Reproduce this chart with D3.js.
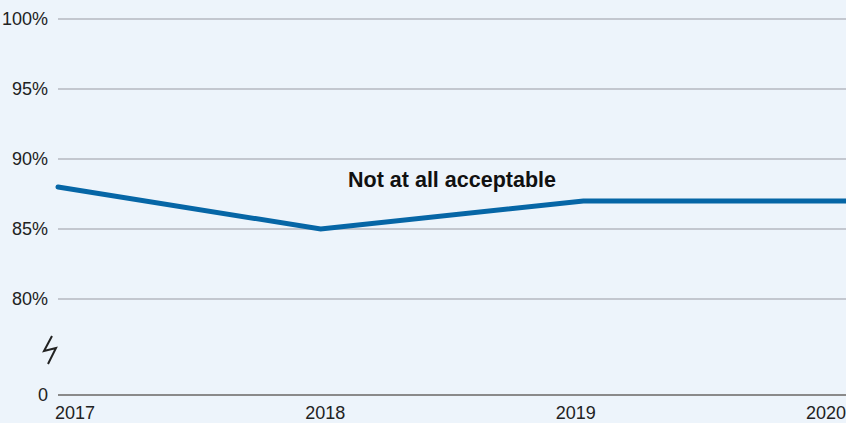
<!DOCTYPE html>
<html><head><meta charset="utf-8">
<script src="https://cdn.jsdelivr.net/npm/d3@7"></script>
<style>
html,body{margin:0;padding:0;background:#edf4fb;}
svg{display:block;font-family:"Liberation Sans",Arial,Helvetica,sans-serif;}
</style></head>
<body>
<svg id="chart" width="846" height="423"></svg>
<script>
const years = ["2017", "2018", "2019", "2020"];
const values = [88, 85, 87, 87];
const yTicks = [80, 85, 90, 95, 100];
const seriesLabel = "Not at all acceptable";

const W = 846, H = 423;
const left = 58, right = 846;
const svg = d3.select("#chart");
svg.append("rect").attr("width", W).attr("height", H).attr("fill", "#edf4fb");

const x = d3.scalePoint().domain(years).range([left, right]);
const y = d3.scaleLinear().domain([80, 100]).range([299, 19]);
const zeroY = 395;

// gridlines
svg.append("g").selectAll("line").data(yTicks).join("line")
  .attr("x1", left).attr("x2", right)
  .attr("y1", d => y(d)).attr("y2", d => y(d))
  .attr("stroke", "#c3c7cf").attr("stroke-width", 2);

// y labels
svg.append("g").selectAll("text").data(yTicks).join("text")
  .attr("x", 48).attr("y", d => y(d)).attr("dy", "0.35em")
  .attr("text-anchor", "end").attr("font-size", 18).attr("fill", "#222")
  .text(d => d + "%");

// baseline & zero label
svg.append("line").attr("x1", left).attr("x2", right)
  .attr("y1", zeroY).attr("y2", zeroY)
  .attr("stroke", "#8a8a8a").attr("stroke-width", 2);
svg.append("text").attr("x", 48).attr("y", zeroY).attr("dy", "0.35em")
  .attr("text-anchor", "end").attr("font-size", 18).attr("fill", "#222").text("0");

// axis break symbol
svg.append("path").attr("d", "M52,336 L44,351 L56,348 L48,364")
  .attr("fill", "none").attr("stroke", "#222").attr("stroke-width", 2)
  .attr("stroke-linejoin", "miter");

// x labels, spread between edges
const xl = svg.append("g").selectAll("text").data(years).join("text")
  .attr("y", 419).attr("font-size", 18).attr("fill", "#222")
  .attr("text-anchor", "middle").text(d => d);
const widths = xl.nodes().map(n => n.getComputedTextLength());
const wAvg = d3.mean(widths);
const x0 = 55, x1 = 846;
xl.attr("x", (d, i) => x0 + wAvg / 2 + i * (x1 - x0 - wAvg) / (years.length - 1));

// line
const line = d3.line().x((d, i) => x(years[i])).y(d => y(d));
svg.append("path").datum(values).attr("d", line)
  .attr("fill", "none").attr("stroke", "#0666a6").attr("stroke-width", 5)
  .attr("stroke-linecap", "round").attr("stroke-linejoin", "miter");

// series label
svg.append("text").attr("x", 452).attr("y", 187)
  .attr("text-anchor", "middle").attr("font-size", 21.5).attr("font-weight", "bold")
  .attr("fill", "#111").text(seriesLabel);
</script>
</body></html>
